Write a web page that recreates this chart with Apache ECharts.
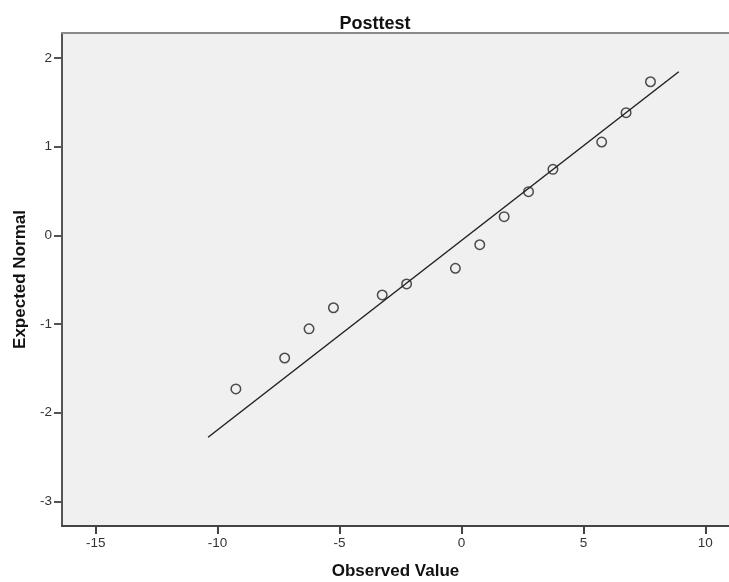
<!DOCTYPE html>
<html>
<head>
<meta charset="utf-8">
<script src="https://cdn.jsdelivr.net/npm/echarts@6/dist/echarts.min.js"></script>
<style>
html,body{margin:0;padding:0;background:#fff;}
#chart{width:729px;height:582px;}
</style>
</head>
<body>
<div id="chart"></div>
<script>
// Observed values (x) and expected normal scores (y)
var observedValues = [-9.25, -7.25, -6.25, -5.25, -3.25, -2.25, -0.25, 0.75, 1.75, 2.75, 3.75, 5.75, 6.75, 7.75];
var expectedNormal = [-1.733, -1.384, -1.055, -0.817, -0.673, -0.549, -0.372, -0.106, 0.210, 0.492, 0.744, 1.052, 1.383, 1.732];
// Reference line end points
var lineX = [-10.39, 8.91];
var lineY = [-2.278, 1.845];
// Tick labels
var xTicks = [-15, -10, -5, 0, 5, 10];
var yTicks = [-3, -2, -1, 0, 1, 2];

var points = observedValues.map(function (v, i) { return [v, expectedNormal[i]]; });
var linePts = lineX.map(function (v, i) { return [v, lineY[i]]; });

var FONT = '"Liberation Sans", Arial, sans-serif';
var chart = echarts.init(document.getElementById('chart'), null, {renderer: 'canvas'});
chart.setOption({
  animation: false,
  backgroundColor: '#ffffff',
  title: {
    text: 'Posttest',
    left: 370,
    top: 10,
    textAlign: 'center',
    textStyle: {fontFamily: FONT, fontWeight: 'bold', fontSize: 18, color: '#111'}
  },
  grid: {
    left: 62, top: 33, right: 0, bottom: 56,
    outerBoundsMode: 'none',
    containLabel: false,
    show: true, backgroundColor: '#f0f0f0', borderWidth: 0
  },
  xAxis: [{
    type: 'value',
    min: -16.38, max: 10.97,
    position: 'bottom',
    name: 'Observed Value',
    nameLocation: 'middle',
    nameGap: 37,
    nameTextStyle: {fontFamily: FONT, fontWeight: 'bold', fontSize: 17, color: '#111'},
    axisLine: {show: true, onZero: false, lineStyle: {color: '#444', width: 2}},
    axisTick: {show: true, length: 8, lineStyle: {color: '#444', width: 2}, customValues: xTicks},
    axisLabel: {fontFamily: FONT, fontSize: 13.5, color: '#333', margin: 10, customValues: xTicks},
    splitLine: {show: false}
  }, {
    type: 'value',
    min: -16.38, max: 10.97,
    position: 'top',
    axisLine: {show: true, onZero: false, lineStyle: {color: '#8a8a8a', width: 2}},
    axisTick: {show: false},
    axisLabel: {show: false},
    splitLine: {show: false}
  }],
  yAxis: {
    type: 'value',
    min: -3.279, max: 2.282,
    name: 'Expected Normal',
    nameLocation: 'middle',
    nameGap: 30,
    nameTextStyle: {fontFamily: FONT, fontWeight: 'bold', fontSize: 17, color: '#111'},
    axisLine: {show: true, onZero: false, lineStyle: {color: '#555', width: 2}},
    axisTick: {show: true, length: 8, lineStyle: {color: '#555', width: 2}, customValues: yTicks},
    axisLabel: {fontFamily: FONT, fontSize: 13.5, color: '#333', margin: 10, customValues: yTicks},
    splitLine: {show: false}
  },
  series: [{
    type: 'line',
    data: linePts,
    xAxisIndex: 0,
    symbol: 'none',
    lineStyle: {color: '#222', width: 1.5},
    silent: true
  }, {
    type: 'scatter',
    data: points,
    xAxisIndex: 0,
    symbol: 'circle',
    symbolSize: 9.5,
    itemStyle: {color: 'rgba(0,0,0,0)', borderColor: '#222', borderWidth: 1.5}
  }]
});
</script>
</body>
</html>
